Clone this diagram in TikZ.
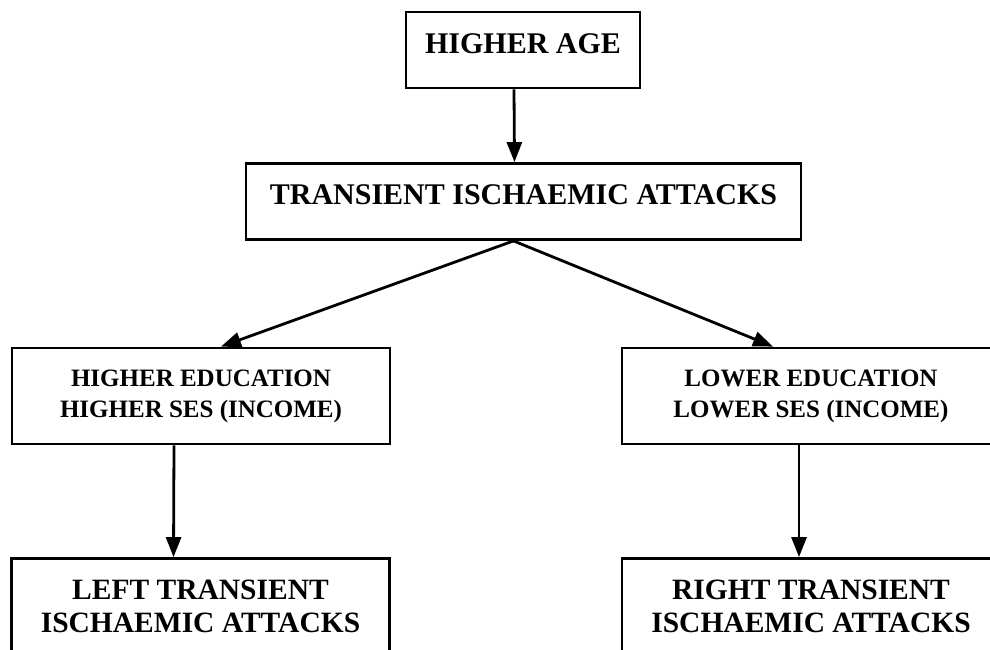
\documentclass[tikz,border=0pt]{standalone}
\usepackage{fontspec}
\setmainfont{Liberation Serif}
\usetikzlibrary{arrows.meta}

\begin{document}
\begin{tikzpicture}[x=0.5pt,y=-0.5pt,line width=1.4pt]
	\tikzset{box/.style={draw,rectangle,inner sep=0pt,align=center}}
	\tikzset{topbox/.style={box,font=\bfseries\fontsize{15}{17}\selectfont,minimum height=38pt,text height=10pt,text depth=7pt}}
	\tikzset{midbox/.style={box,font=\bfseries\fontsize{12.5}{15.5}\selectfont,minimum width=189pt,minimum height=48pt}}
	\tikzset{endbox/.style={box,font=\bfseries\fontsize{14.75}{16.5}\selectfont,minimum width=189pt,minimum height=48pt}}
	\tikzstyle{every edge}=[draw,-{Triangle[width=7.5pt,length=10pt]}]
	% Frame
	\useasboundingbox (0,0) rectangle (990,649);
	\clip (0,0) rectangle (990,649);
	% Place Nodes
	\node[topbox,minimum width=117pt] (age) at (523,50) {HIGHER AGE};
	\node[topbox,minimum width=277.5pt] (tia) at (523.5,201.5) {TRANSIENT ISCHAEMIC ATTACKS};
	\node[midbox] (hied) at (201,396) {HIGHER EDUCATION\\HIGHER SES (INCOME)};
	\node[midbox] (loed) at (811,396) {LOWER EDUCATION\\LOWER SES (INCOME)};
	\node[endbox] (ltia) at (200.5,606.5) {LEFT TRANSIENT\\ISCHAEMIC ATTACKS};
	\node[endbox] (rtia) at (811,606.5) {RIGHT TRANSIENT\\ISCHAEMIC ATTACKS};
	% Draw arrows
	\path
	([xshift=-4.5pt]age.south) edge ([xshift=-4.5pt]tia.north)
	([xshift=-5pt]tia.south) edge ([xshift=10pt]hied.north)
	([xshift=-5pt]tia.south) edge ([xshift=-19pt]loed.north)
	([xshift=-13.5pt]hied.south) edge ([xshift=-13.5pt]ltia.north)
	([xshift=-6pt]loed.south) edge ([xshift=-6pt]loed.south |- rtia.north);
\end{tikzpicture}
\end{document}
